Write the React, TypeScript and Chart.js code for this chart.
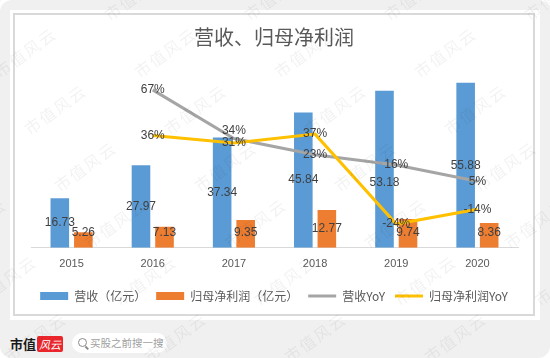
import React, { useEffect, useRef } from "react";
import { Chart, registerables } from "chart.js";

Chart.register(...registerables);

const chartTitle = "营收、归母净利润";
const years = ["2015", "2016", "2017", "2018", "2019", "2020"];
const revenue = [16.73, 27.97, 37.34, 45.84, 53.18, 55.88];
const netProfit = [5.26, 7.13, 9.35, 12.77, 9.74, 8.36];
const revenueYoY = [null, 67, 34, 23, 16, 5];
const profitYoY = [null, 36, 31, 37, -24, -14];
const seriesNames = ["营收（亿元）", "归母净利润（亿元）", "营收YoY", "归母净利润YoY"];
const seriesColors = ["#5b9bd5", "#ed7d31", "#a5a5a5", "#ffc000"];

const CJK = "'Noto Sans CJK SC', 'Noto Sans', sans-serif";
const NUM = "'Liberation Sans', Arial, sans-serif";

const valueLabels = {
  id: "valueLabels",
  afterDatasetsDraw(chart: any) {
    const ctx = chart.ctx;
    ctx.save();
    ctx.font = `12px ${NUM}`;
    ctx.fillStyle = "#404040";
    ctx.textAlign = "center";
    ctx.textBaseline = "middle";
    const lineLabels: { x: number; y: number; text: string }[][] = [];
    years.forEach((_, i) => {
      const items: { x: number; y: number; text: string }[] = [];
      [2, 3].forEach((di) => {
        const v = chart.data.datasets[di].data[i];
        if (v == null) return;
        const el = chart.getDatasetMeta(di).data[i];
        items.push({ x: el.x, y: el.y, text: `${v}%` });
      });
      if (items.length === 2) {
        items.sort((a, b) => a.y - b.y);
        if (items[1].y - items[0].y < 12) items[0].y = items[1].y - 12;
      }
      lineLabels.push(items);
    });
    [0, 1].forEach((di) => {
      const meta = chart.getDatasetMeta(di);
      meta.data.forEach((el: any, i: number) => {
        const p = el.getProps(["x", "y", "base"], true);
        const v = chart.data.datasets[di].data[i] as number;
        let ly = Math.min((p.y + p.base) / 2, p.base - 15);
        if (di === 0) {
          lineLabels[i].forEach((it) => {
            if (Math.abs(it.y - ly) < 14 && Math.abs(it.x - p.x) < 30) ly = it.y + 18;
          });
        }
        ctx.fillText(v.toFixed(2), p.x, ly);
      });
    });
    lineLabels.forEach((items) => items.forEach((it) => ctx.fillText(it.text, it.x, it.y)));
    ctx.restore();
  },
};

function ChartBox() {
  const ref = useRef<HTMLCanvasElement | null>(null);
  useEffect(() => {
    if (!ref.current) return;
    const chart = new Chart(ref.current, {
      type: "bar",
      data: {
        labels: years,
        datasets: [
          {
            type: "bar",
            label: seriesNames[0],
            data: revenue,
            backgroundColor: seriesColors[0],
            yAxisID: "y",
            order: 2,
            categoryPercentage: 0.58,
            barPercentage: 0.79,
          },
          {
            type: "bar",
            label: seriesNames[1],
            data: netProfit,
            backgroundColor: seriesColors[1],
            yAxisID: "y",
            order: 2,
            categoryPercentage: 0.58,
            barPercentage: 0.79,
          },
          {
            type: "line",
            label: seriesNames[2],
            data: revenueYoY as any,
            borderColor: seriesColors[2],
            backgroundColor: seriesColors[2],
            borderWidth: 3,
            pointRadius: 0,
            tension: 0,
            yAxisID: "y1",
            order: 1,
          },
          {
            type: "line",
            label: seriesNames[3],
            data: profitYoY as any,
            borderColor: seriesColors[3],
            backgroundColor: seriesColors[3],
            borderWidth: 3,
            pointRadius: 0,
            tension: 0,
            yAxisID: "y1",
            order: 0,
          },
        ] as any,
      },
      options: {
        animation: false,
        responsive: false,
        maintainAspectRatio: false,
        layout: { padding: { left: 0, right: 0, top: 0, bottom: 2 } },
        plugins: {
          title: {
            display: true,
            text: chartTitle,
            color: "#595959",
            font: { family: CJK, size: 20, weight: "normal" as any },
            padding: { top: 10, bottom: 21.7 },
          },
          legend: {
            position: "bottom",
            labels: {
              usePointStyle: true,
              pointStyleWidth: 28,
              boxHeight: 8,
              padding: 10,
              color: "#595959",
              font: { family: CJK, size: 12 },
              generateLabels: (c: any) =>
                c.data.datasets.map((ds: any, i: number) => ({
                  text: ds.label,
                  fillStyle: seriesColors[i],
                  strokeStyle: seriesColors[i],
                  lineWidth: i < 2 ? 0 : 3,
                  pointStyle: i < 2 ? "rect" : "line",
                  hidden: false,
                  datasetIndex: i,
                  fontColor: "#595959",
                })),
            },
          },
          tooltip: { enabled: false },
        },
        scales: {
          x: {
            grid: { display: false, drawTicks: false },
            border: { display: true, color: "#d9d9d9", width: 1 },
            ticks: { color: "#595959", font: { family: NUM, size: 11 }, padding: 10 },
            afterFit: (s: any) => {
              s.height = 32.3;
            },
          },
          y: {
            position: "left",
            min: 0,
            max: 60,
            grid: { display: false },
            border: { display: false },
            ticks: { display: false },
            afterFit: (s: any) => {
              s.width = 16;
            },
          },
          y1: {
            position: "right",
            min: -40,
            max: 80,
            grid: { display: false },
            border: { display: false },
            ticks: { display: false },
            afterFit: (s: any) => {
              s.width = 15;
            },
          },
        },
      },
      plugins: [valueLabels],
    });
    return () => chart.destroy();
  }, []);
  return (
    <canvas
      ref={ref}
      width={518}
      height={299}
      style={{ position: "absolute", left: 15, top: 15, width: 518, height: 299 }}
    />
  );
}

function Watermarks() {
  const marks: React.ReactNode[] = [];
  for (let j = -1; j <= 6; j++) {
    for (let i = -2; i <= 4; i++) {
      const cx = 25 + 140 * i + 30 * j;
      const cy = 52 + 57 * j;
      marks.push(
        <span
          key={`${i}_${j}`}
          style={{
            position: "absolute",
            left: cx - 40,
            top: cy - 10,
            width: 80,
            height: 20,
            lineHeight: "20px",
            textAlign: "center",
            fontFamily: CJK,
            fontSize: 16,
            letterSpacing: 2,
            color: "rgba(0,0,0,0.055)",
            transform: "rotate(-36deg)",
            whiteSpace: "nowrap",
          }}
        >
          市值风云
        </span>
      );
    }
  }
  return (
    <div style={{ position: "absolute", left: 0, top: 0, width: 550, height: 358, overflow: "hidden", pointerEvents: "none" }}>
      {marks}
    </div>
  );
}

export default function App() {
  return (
    <div style={{ position: "absolute", left: 0, top: 0, width: 550, height: 358, background: "#ffffff", overflow: "hidden" }}>
      <div style={{ position: "absolute", left: 0, top: 0, width: 550, height: 358, background: "#f0f0f0", borderRadius: 12 }} />
      <div style={{ position: "absolute", left: 10, top: 10, width: 530, height: 310, background: "#ffffff" }} />
      <div
        style={{
          position: "absolute",
          left: 13,
          top: 13,
          width: 522,
          height: 303,
          border: "2px solid #d9d9d9",
          boxSizing: "border-box",
        }}
      />
      <ChartBox />
      <div
        style={{
          position: "absolute",
          left: 10,
          top: 335,
          height: 18,
          lineHeight: "18px",
          fontFamily: CJK,
          fontWeight: 700,
          fontSize: 13,
          color: "#1a1a1a",
        }}
      >
        市值
      </div>
      <div
        style={{
          position: "absolute",
          left: 37,
          top: 336,
          width: 26,
          height: 16,
          lineHeight: "16px",
          background: "#e8262b",
          color: "#ffffff",
          fontFamily: CJK,
          fontStyle: "italic",
          fontSize: 11,
          textAlign: "center",
          borderRadius: 2,
        }}
      >
        风云
      </div>
      <div
        style={{
          position: "absolute",
          left: 72,
          top: 333,
          width: 95,
          height: 20,
          background: "#ffffff",
          borderRadius: 10,
        }}
      >
        <div
          style={{
            position: "absolute",
            left: 6,
            top: 5,
            width: 7,
            height: 7,
            border: "1.5px solid #8a8a8a",
            borderRadius: "50%",
          }}
        />
        <div
          style={{
            position: "absolute",
            left: 13,
            top: 14,
            width: 4,
            height: 1.5,
            background: "#8a8a8a",
            transform: "rotate(45deg)",
          }}
        />
        <div
          style={{
            position: "absolute",
            left: 18,
            top: 0,
            height: 20,
            lineHeight: "20px",
            fontFamily: CJK,
            fontSize: 10.5,
            color: "#a0a0a0",
            whiteSpace: "nowrap",
          }}
        >
          买股之前搜一搜
        </div>
      </div>
      <Watermarks />
    </div>
  );
}
